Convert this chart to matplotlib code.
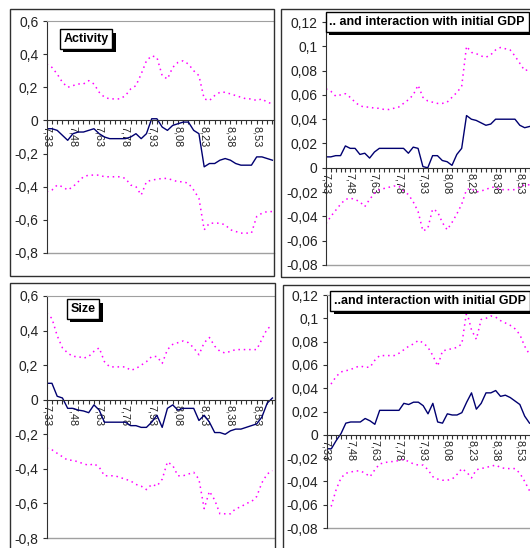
import numpy as np
import matplotlib
matplotlib.use('Agg')
import matplotlib.pyplot as plt
import matplotlib.patheffects as pe
from matplotlib.patches import Rectangle
from matplotlib.ticker import MultipleLocator, FuncFormatter

plt.rcParams['font.family'] = ['Liberation Sans', 'DejaVu Sans']

W, H = 530, 548

# category labels shown on the axis (every 5th category)
tick_labels = ['7,33', '7,48', '7,63', '7,78', '7,93', '8,08', '8,23', '8,38', '8,53']

# Activity
act_mid = [-0.05, -0.05, -0.06, -0.09, -0.12, -0.08, -0.07, -0.07, -0.06, -0.05,
           -0.08, -0.10, -0.11, -0.11, -0.11, -0.11, -0.10, -0.08, -0.11, -0.08,
           0.01, 0.01, -0.04, -0.06, -0.03, -0.02, -0.01, -0.01, -0.06, -0.08,
           -0.28, -0.26, -0.26, -0.24, -0.23, -0.24, -0.26, -0.27, -0.27, -0.27,
           -0.22, -0.22, -0.23, -0.24]
act_up = [0.34, 0.32, 0.28, 0.23, 0.20, 0.21, 0.22, 0.22, 0.24, 0.22,
          0.17, 0.14, 0.13, 0.13, 0.13, 0.15, 0.19, 0.21, 0.28, 0.36,
          0.39, 0.38, 0.27, 0.25, 0.32, 0.35, 0.36, 0.34, 0.30, 0.27,
          0.13, 0.12, 0.15, 0.17, 0.17, 0.16, 0.15, 0.14, 0.13, 0.13,
          0.12, 0.13, 0.11, 0.10]
act_lo = [-0.43, -0.42, -0.39, -0.40, -0.42, -0.40, -0.37, -0.34, -0.33, -0.33,
          -0.33, -0.34, -0.34, -0.34, -0.34, -0.35, -0.39, -0.40, -0.45, -0.37,
          -0.36, -0.355, -0.35, -0.35, -0.36, -0.37, -0.37, -0.38, -0.42, -0.47,
          -0.66, -0.62, -0.62, -0.62, -0.63, -0.66, -0.67, -0.68, -0.68, -0.68,
          -0.58, -0.56, -0.55, -0.55]

# Activity x initial GDP
actg_mid = [0.009, 0.009, 0.010, 0.010, 0.018, 0.016, 0.016, 0.011, 0.012, 0.008,
            0.013, 0.016, 0.016, 0.016, 0.016, 0.016, 0.016, 0.012, 0.017, 0.016,
            0.001, 0.000, 0.010, 0.010, 0.006, 0.005, 0.002, 0.011, 0.016, 0.043,
            0.040, 0.039, 0.037, 0.035, 0.036, 0.040, 0.040, 0.040, 0.040, 0.040,
            0.035, 0.033, 0.034]
actg_up = [0.065, 0.063, 0.059, 0.060, 0.061, 0.058, 0.054, 0.051, 0.050, 0.050,
           0.049, 0.049, 0.048, 0.048, 0.049, 0.050, 0.053, 0.056, 0.060, 0.068,
           0.058, 0.055, 0.054, 0.053, 0.053, 0.054, 0.058, 0.062, 0.067, 0.100,
           0.095, 0.094, 0.092, 0.091, 0.093, 0.097, 0.099, 0.098, 0.097, 0.092,
           0.086, 0.080, 0.081]
actg_lo = [-0.046, -0.040, -0.035, -0.030, -0.026, -0.025, -0.026, -0.028, -0.032, -0.026,
           -0.021, -0.018, -0.017, -0.016, -0.015, -0.015, -0.019, -0.022, -0.028, -0.036,
           -0.052, -0.050, -0.034, -0.036, -0.045, -0.051, -0.045, -0.038, -0.030, -0.018,
           -0.017, -0.020, -0.019, -0.018, -0.016, -0.016, -0.018, -0.018, -0.018, -0.018,
           -0.016, -0.014, -0.014]

# Size
size_mid = [0.095, 0.095, 0.02, 0.01, -0.05, -0.05, -0.06, -0.065, -0.075, -0.03,
            -0.06, -0.13, -0.13, -0.13, -0.13, -0.13, -0.15, -0.15, -0.16, -0.16,
            -0.13, -0.09, -0.16, -0.05, -0.03, -0.06, -0.05, -0.05, -0.05, -0.12,
            -0.09, -0.13, -0.19, -0.19, -0.20, -0.18, -0.17, -0.17, -0.16, -0.15,
            -0.14, -0.10, -0.02, 0.01]
size_up = [0.50, 0.47, 0.37, 0.30, 0.27, 0.25, 0.25, 0.24, 0.25, 0.28,
           0.30, 0.22, 0.19, 0.19, 0.19, 0.19, 0.17, 0.18, 0.20, 0.22,
           0.25, 0.25, 0.21, 0.29, 0.32, 0.33, 0.34, 0.33, 0.30, 0.26,
           0.33, 0.36, 0.31, 0.28, 0.27, 0.28, 0.29, 0.29, 0.29, 0.29,
           0.29, 0.35, 0.41, 0.43]
size_lo = [-0.28, -0.29, -0.31, -0.33, -0.35, -0.35, -0.36, -0.37, -0.38, -0.37,
           -0.39, -0.44, -0.44, -0.44, -0.45, -0.46, -0.47, -0.49, -0.50, -0.52,
           -0.49, -0.50, -0.46, -0.36, -0.38, -0.44, -0.44, -0.43, -0.42, -0.46,
           -0.63, -0.53, -0.58, -0.66, -0.66, -0.66, -0.63, -0.62, -0.60, -0.59,
           -0.56, -0.48, -0.43, -0.41]

# Size x initial GDP
sizeg_mid = [-0.012, -0.012, -0.005, 0.001, 0.010, 0.011, 0.011, 0.011, 0.014, 0.012,
             0.009, 0.021, 0.021, 0.021, 0.021, 0.021, 0.027, 0.026, 0.028, 0.028,
             0.025, 0.018, 0.027, 0.011, 0.010, 0.018, 0.017, 0.017, 0.019, 0.028,
             0.036, 0.022, 0.027, 0.036, 0.036, 0.038, 0.033, 0.034, 0.032, 0.029,
             0.026, 0.016, 0.010]
sizeg_up = [0.041, 0.044, 0.050, 0.054, 0.055, 0.056, 0.058, 0.059, 0.058, 0.058,
            0.064, 0.068, 0.068, 0.068, 0.068, 0.070, 0.073, 0.076, 0.078, 0.081,
            0.079, 0.075, 0.068, 0.059, 0.072, 0.073, 0.074, 0.075, 0.078, 0.106,
            0.090, 0.082, 0.099, 0.100, 0.102, 0.101, 0.098, 0.096, 0.094, 0.091,
            0.086, 0.076, 0.069]
sizeg_lo = [-0.064, -0.061, -0.047, -0.037, -0.033, -0.032, -0.031, -0.031, -0.033, -0.036,
            -0.030, -0.025, -0.024, -0.023, -0.023, -0.022, -0.021, -0.023, -0.025, -0.026,
            -0.026, -0.030, -0.036, -0.038, -0.039, -0.039, -0.038, -0.034, -0.029, -0.032,
            -0.037, -0.030, -0.029, -0.028, -0.027, -0.026, -0.028, -0.029, -0.029, -0.029,
            -0.033, -0.040, -0.048]


def comma_fmt(v, pos):
    v = round(v, 4)
    if v == 0:
        return '0'
    return ('%g' % v).replace('.', ',')


def fig_box(x0, y_top, x1, y_bot):
    return [x0 / W, 1 - y_bot / H, (x1 - x0) / W, (y_bot - y_top) / H]


fig = plt.figure(figsize=(W / 100, H / 100), dpi=100)

# outer chart frames (the right and bottom ones run past the picture edge)
frames = [(9.5, 9, 274, 276), (281, 8.5, 560, 277),
          (9.5, 283, 274.5, 580), (282.5, 284.5, 560, 580)]
for x0, y0, x1, y1 in frames:
    fig.patches.append(Rectangle((x0 / W, 1 - y1 / H), (x1 - x0) / W, (y1 - y0) / H,
                                 transform=fig.transFigure, fill=False,
                                 ec='#303030', lw=1))

panels = [
    (act_mid, act_up, act_lo, (-0.8, 0.6), 0.2, fig_box(46.7, 21, 274, 253), 43.3,
     'Activity', (86, 39)),
    (actg_mid, actg_up, actg_lo, (-0.08, 0.12), 0.02, fig_box(326, 22, 530, 265), 42.1,
     '.. and interaction with initial GDP', (427, 22)),
    (size_mid, size_up, size_lo, (-0.8, 0.6), 0.2, fig_box(46.7, 296, 274, 538), 43.3,
     'Size', (83, 309)),
    (sizeg_mid, sizeg_up, sizeg_lo, (-0.08, 0.12), 0.02, fig_box(326.5, 295, 530, 528), 42.1,
     '..and interaction with initial GDP', (430, 301)),
]

for mid, up, lo, ylim, step, pos, xmax, title, (tx, ty) in panels:
    ax = fig.add_axes(pos)
    x = np.arange(len(mid))
    ax.plot(x, up, color='#ff00ff', lw=1.1, ls=(0, (1, 2.5)))
    ax.plot(x, lo, color='#ff00ff', lw=1.1, ls=(0, (1, 2.5)))
    ax.plot(x, mid, color='#000070', lw=1)
    ax.set_xlim(0, xmax)
    ax.set_ylim(*ylim)

    ax.spines['right'].set_visible(False)
    ax.spines['top'].set_color('#a0a0a0')
    ax.spines['left'].set_color('#303030')
    ax.spines['bottom'].set_position(('data', 0))
    ax.spines['bottom'].set_color('#303030')
    ax.axhline(ylim[0], color='#a0a0a0', lw=1, clip_on=False)

    ax.set_xticks(np.arange(0, 41, 5))
    ax.set_xticklabels(tick_labels, rotation=-90, fontsize=7.8, color='#222222')
    ax.xaxis.set_minor_locator(MultipleLocator(1))
    ax.tick_params(axis='x', which='both', direction='out', length=3,
                   width=0.8, color='#303030', pad=1)

    ax.yaxis.set_major_locator(MultipleLocator(step))
    ax.yaxis.set_major_formatter(FuncFormatter(comma_fmt))
    ax.tick_params(axis='y', direction='out', length=3, width=0.8,
                   color='#303030', labelsize=10, labelcolor='#222222', pad=3)

    t = fig.text(tx / W, 1 - ty / H, title, fontsize=9, fontweight='bold',
                 ha='center', va='center',
                 bbox=dict(boxstyle='square,pad=0.3', fc='white', ec='black', lw=1))
    t.get_bbox_patch().set_path_effects([
        pe.SimplePatchShadow(offset=(2.5, -2.5), shadow_rgbFace='black', alpha=1),
        pe.Normal()])

fig.savefig('out.png', dpi=100)
